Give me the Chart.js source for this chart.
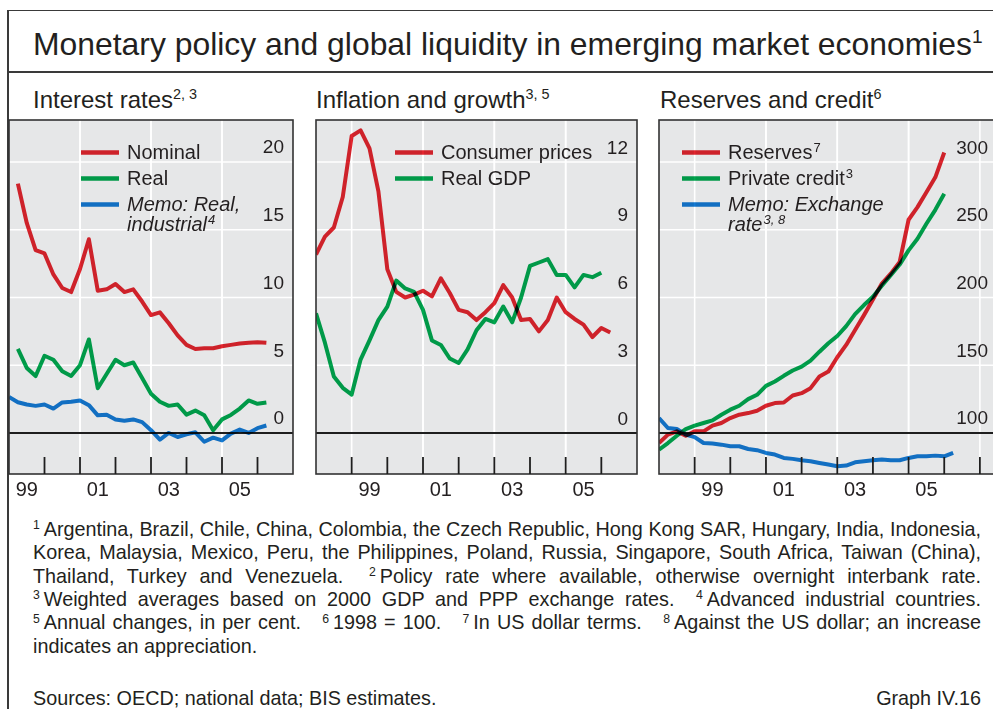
<!DOCTYPE html>
<html>
<head>
<meta charset="utf-8">
<script src="https://cdn.jsdelivr.net/npm/chart.js@4.4.1/dist/chart.umd.min.js"></script>
<style>
html, body { margin: 0; padding: 0; background: #fff; overflow: hidden; width: 993px; height: 709px; }
body { position: relative; font-family: "Liberation Sans", Arial, Helvetica, sans-serif; color: #231f20; }
.abs { position: absolute; white-space: nowrap; }
.rule { position: absolute; background: #3a3a3a; }
.title { left: 33px; top: 28px; font-size: 32px; line-height: 32px; transform-origin: 0 0; }
.sub { top: 88px; font-size: 24px; line-height: 24px; }
.sup { font-size: 0.6em; position: relative; top: -0.6em; }
.fs { font-size: 0.62em; position: relative; top: -0.55em; margin-right: 4px; }
.fn { position: absolute; left: 33px; width: 948px; font-size: 19.8px; line-height: 23.4px; }
.just { text-align: justify; text-align-last: justify; }
canvas { position: absolute; top: 115px; }
</style>
</head>
<body>
<div class="rule" style="left:7px;top:10px;width:2px;height:699px"></div>
<div class="rule" style="left:7px;top:9.5px;width:986px;height:1.5px"></div>
<div class="rule" style="left:7px;top:70.5px;width:986px;height:2px"></div>

<div class="abs title" id="title"><span id="titleText">Monetary policy and global liquidity in emerging market economies</span><span class="sup">1</span></div>
<div class="abs sub" style="left:33px">Interest rates<span class="sup">2, 3</span></div>
<div class="abs sub" style="left:316px">Inflation and growth<span class="sup">3, 5</span></div>
<div class="abs sub" style="left:660px">Reserves and credit<span class="sup">6</span></div>

<canvas id="rates" width="305" height="395" style="left:0px"></canvas>
<canvas id="infl" width="340" height="395" style="left:305px"></canvas>
<canvas id="reserves" width="360" height="395" style="left:645px"></canvas>

<div class="fn just" style="top:517.7px"><span class="fs">1</span>Argentina, Brazil, Chile, China, Colombia, the Czech Republic, Hong Kong SAR, Hungary, India, Indonesia,</div>
<div class="fn just" style="top:541.1px">Korea, Malaysia, Mexico, Peru, the Philippines, Poland, Russia, Singapore, South Africa, Taiwan (China),</div>
<div class="fn just" style="top:564.5px">Thailand, Turkey and Venezuela. &nbsp;<span class="fs">2</span>Policy rate where available, otherwise overnight interbank rate.</div>
<div class="fn just" style="top:587.9px"><span class="fs">3</span>Weighted averages based on 2000 GDP and PPP exchange rates. &nbsp;<span class="fs">4</span>Advanced industrial countries.</div>
<div class="fn just" style="top:611.3px"><span class="fs">5</span>Annual changes, in per cent. &nbsp; <span class="fs">6</span>1998 = 100. &nbsp; <span class="fs">7</span>In US dollar terms. &nbsp; <span class="fs">8</span>Against the US dollar; an increase</div>
<div class="fn" style="top:634.7px">indicates an appreciation.</div>
<div class="fn" style="top:686.7px">Sources: OECD; national data; BIS estimates.</div>
<div class="fn" style="top:686.7px;text-align:right">Graph IV.16</div>

<script>
// quarters (plotted at the start of each quarter)
const quarters9906 = ['1999Q1','1999Q2','1999Q3','1999Q4','2000Q1','2000Q2','2000Q3','2000Q4',
  '2001Q1','2001Q2','2001Q3','2001Q4','2002Q1','2002Q2','2002Q3','2002Q4','2003Q1','2003Q2','2003Q3','2003Q4',
  '2004Q1','2004Q2','2004Q3','2004Q4','2005Q1','2005Q2','2005Q3','2005Q4','2006Q1','2006Q2'];
const quarters9806 = ['1998Q1','1998Q2','1998Q3','1998Q4','1999Q1','1999Q2','1999Q3','1999Q4','2000Q1','2000Q2','2000Q3','2000Q4',
  '2001Q1','2001Q2','2001Q3','2001Q4','2002Q1','2002Q2','2002Q3','2002Q4','2003Q1','2003Q2','2003Q3','2003Q4',
  '2004Q1','2004Q2','2004Q3','2004Q4','2005Q1','2005Q2','2005Q3','2005Q4','2006Q1','2006Q2'];

// interest rates, %
const nominal = [null, 18.4, 15.5, 13.5, 13.25, 11.7, 10.7, 10.4, 12.1, 14.3, 10.5, 10.6, 11.0, 10.4, 10.6, 9.7,
  8.7, 8.9, 8.1, 7.2, 6.5, 6.2, 6.25, 6.25, 6.4, 6.5, 6.6, 6.65, 6.7, 6.65];
const realRate = [null, 6.2, 4.8, 4.2, 5.7, 5.4, 4.55, 4.2, 5.0, 6.9, 3.3, 4.35, 5.4, 5.0, 5.2, 4.05,
  2.9, 2.3, 2.0, 2.1, 1.35, 1.65, 1.3, 0.2, 1.0, 1.33, 1.8, 2.4, 2.15, 2.25];
const realIndustrial = [2.65, 2.27, 2.1, 2.0, 2.1, 1.8, 2.25, 2.3, 2.4, 2.05, 1.3, 1.35, 1.0, 0.9, 1.0, 0.8,
  0.2, -0.5, 0.0, -0.3, -0.1, 0.05, -0.65, -0.35, -0.55, -0.05, 0.25, 0.0, 0.35, 0.55];

// inflation and growth, %
const consumerPrices = [7.9, 8.7, 9.1, 10.45, 13.15, 13.4, 12.6, 10.7, 7.25, 6.25, 6.0, 6.13, 6.3, 6.05, 6.85, 6.2,
  5.45, 5.35, 5.0, 5.35, 5.75, 6.55, 6.0, 5.0, 5.05, 4.5, 5.0, 6.0, 5.35, 5.05, 4.8, 4.25, 4.65, 4.45];
const realGdp = [5.3, 4.0, 2.5, 2.0, 1.7, 3.25, 4.1, 5.0, 5.6, 6.75, 6.4, 6.25, 5.45, 4.1, 3.9, 3.3,
  3.1, 3.7, 4.55, 5.05, 4.9, 5.6, 4.9, 6.0, 7.4, 7.55, 7.7, 7.0, 7.0, 6.45, 7.0, 6.9, 7.1, null];

// reserves and credit, 1998 = 100
const reserves = [92.6, 98.8, 101.2, 98, 101.2, 101.2, 105.4, 107.4, 111, 113.5, 114.7, 116.4, 120.1, 122.1, 122.5, 127.7,
  129.4, 133.1, 141.7, 145.3, 155.9, 165, 176, 187, 198.5, 210.3, 217.6, 226.2, 257.4, 266.7, 277.7, 288.7, 307, null];
const privateCredit = [87.7, 92.6, 98, 102.9, 105.4, 107.4, 109.3, 113.5, 117.2, 120.1, 125, 128.2, 134.8, 138, 142.2, 146.1,
  149, 153.4, 160, 166.2, 171.6, 178.9, 187.7, 194.4, 200.5, 208.6, 216.4, 224.3, 234.8, 243.4, 254.4, 264.7, 276.5, null];
const exchangeRate = [111, 103.7, 102.9, 98.8, 97, 92.6, 92.2, 91.4, 90.2, 90.2, 88.2, 87.3, 85.3, 84.1, 81.6, 80.9,
  79.9, 79.2, 77.9, 76.7, 75.5, 76, 78.4, 79.2, 79.9, 80.4, 79.9, 79.9, 81.6, 82.8, 82.8, 83.3, 82.8, 85.3];

// tick labels
const yearLabels = ['99', '01', '03', '05'];
const ratesTicks = [0, 5, 10, 15, 20];
const inflTicks = [0, 3, 6, 9, 12];
const reservesTicks = [100, 150, 200, 250, 300];

const FONT = '"Liberation Sans", Arial, Helvetica, sans-serif';
const RED = '#e5252e', GREEN = '#00a94f', BLUE = '#137bd5';

// fit title width
const tw = document.getElementById('titleText').getBoundingClientRect().width;
document.getElementById('title').style.transform = 'scaleX(' + (939 / tw) + ')';

// make sure justified footnote lines fit on one line
document.querySelectorAll('.just').forEach(el => {
  const probe = document.createElement('span');
  probe.innerHTML = el.innerHTML;
  probe.style.cssText = 'position:absolute;visibility:hidden;white-space:nowrap;font-size:19.8px';
  document.body.appendChild(probe);
  const w = probe.getBoundingClientRect().width;
  probe.remove();
  if (w > 946) el.style.letterSpacing = ((946 - w) / el.textContent.length) + 'px';
});

function qpos(q) {
  const parts = q.split('Q');
  return +parts[0] + (parts[1] - 1) / 4;
}
function series(quarters, values) {
  return quarters.map((q, i) => ({ x: qpos(q), y: values[i] }));
}

function drawRich(ctx, str, x, y, size, italic) {
  const parts = str.split('^');
  const f = s => (italic ? 'italic ' : '') + s + 'px ' + FONT;
  ctx.font = f(size);
  ctx.fillText(parts[0], x, y);
  if (parts[1]) {
    const w = ctx.measureText(parts[0]).width;
    ctx.font = f(13);
    ctx.fillText(parts[1], x + w + 1, y - 7);
  }
}

const panelPlugin = {
  id: 'panel',
  beforeDraw(chart, args, o) {
    const { ctx, chartArea: a, scales: { x, y } } = chart;
    ctx.save();
    ctx.fillStyle = '#e6e7e8';
    ctx.fillRect(a.left, a.top, a.width, a.height);
    ctx.strokeStyle = '#ffffff';
    ctx.lineWidth = 1.6;
    yearLabels.forEach(l => {
      const yr = 2000 + (+l > 50 ? +l - 100 : +l);
      [yr, yr + 2].forEach(g => {
        if (g > x.min && g < x.max) {
          const px = x.getPixelForValue(g);
          ctx.beginPath(); ctx.moveTo(px, a.top); ctx.lineTo(px, a.bottom); ctx.stroke();
        }
      });
    });
    o.ticks.forEach(v => {
      if (v === o.base) return;
      const py = y.getPixelForValue(v);
      ctx.beginPath(); ctx.moveTo(a.left, py); ctx.lineTo(a.right, py); ctx.stroke();
    });
    ctx.strokeStyle = '#1e1e1e';
    ctx.lineWidth = 2;
    const by = y.getPixelForValue(o.base);
    ctx.beginPath(); ctx.moveTo(a.left, by); ctx.lineTo(a.right, by); ctx.stroke();
    ctx.restore();
  },
  beforeDatasetsDraw(chart) {
    chart.ctx.save();
    chart.ctx.globalCompositeOperation = 'multiply';
  },
  afterDatasetsDraw(chart, args, o) {
    const { ctx, chartArea: a, scales: { x, y } } = chart;
    // legend samples (multiply, like the lines)
    const lg = o.legend;
    let cy = a.top + lg.y;
    const rows = [];
    chart.data.datasets.forEach(ds => {
      ctx.strokeStyle = ds.borderColor;
      ctx.lineWidth = 4.5;
      ctx.beginPath();
      ctx.moveTo(a.left + lg.x1, cy + 0.5); ctx.lineTo(a.left + lg.x2, cy + 0.5); ctx.stroke();
      const lines = ds.label.split('\n');
      lines.forEach((t, i) => rows.push({ t, y: cy + i * 20, italic: ds.italic }));
      cy += 26 + (lines.length - 1) * 20;
    });
    ctx.restore();

    ctx.save();
    ctx.fillStyle = '#231f20';
    ctx.textBaseline = 'alphabetic';
    ctx.textAlign = 'left';
    rows.forEach(r => drawRich(ctx, r.t, a.left + lg.text, r.y + 7, 20, r.italic));

    // border
    ctx.strokeStyle = '#333';
    ctx.lineWidth = 1.6;
    ctx.strokeRect(a.left, a.top, a.width, a.height);

    // year ticks inside the bottom
    ctx.strokeStyle = '#1e1e1e';
    ctx.lineWidth = 1.8;
    for (let yr = Math.ceil(x.min + 0.01); yr < x.max - 0.01; yr++) {
      const px = x.getPixelForValue(yr);
      ctx.beginPath(); ctx.moveTo(px, a.bottom); ctx.lineTo(px, a.bottom - 17); ctx.stroke();
    }

    // x labels, centred in the year
    ctx.font = '20px ' + FONT;
    ctx.textAlign = 'center';
    yearLabels.forEach(l => {
      const yr = 2000 + (+l > 50 ? +l - 100 : +l);
      if (yr + 0.5 > x.min && yr + 0.5 < x.max) ctx.fillText(l, x.getPixelForValue(yr + 0.5), a.bottom + 22);
    });

    // y labels, inside on the right above the grid line
    ctx.font = '19px ' + FONT;
    ctx.textAlign = 'right';
    o.ticks.forEach(v => ctx.fillText(String(v), a.right - 9, y.getPixelForValue(v) - 8.5));
    ctx.restore();
  }
};

function makePanel(id, quarters, sets, opt) {
  return new Chart(document.getElementById(id).getContext('2d'), {
    type: 'line',
    data: {
      datasets: sets.map(s => ({
        label: s.label,
        italic: !!s.italic,
        data: series(quarters, s.values),
        borderColor: s.color,
        borderWidth: 4,
        pointRadius: 0,
        tension: 0,
        borderJoinStyle: 'round',
        fill: false
      }))
    },
    options: {
      responsive: false,
      animation: false,
      events: [],
      layout: { padding: opt.padding },
      scales: {
        x: { type: 'linear', display: false, min: opt.xMin, max: opt.xMax },
        y: { type: 'linear', display: false, min: opt.yMin, max: opt.yMax }
      },
      plugins: {
        legend: { display: false },
        tooltip: { enabled: false },
        panel: { ticks: opt.ticks, base: opt.base, legend: opt.legend }
      }
    },
    plugins: [panelPlugin]
  });
}

makePanel('rates', quarters9906, [
  { label: 'Nominal', values: nominal, color: RED },
  { label: 'Real', values: realRate, color: GREEN },
  { label: 'Memo: Real,\nindustrial^4', values: realIndustrial, color: BLUE, italic: true }
], { padding: { left: 9, right: 12, top: 5, bottom: 36 }, xMin: 1999, xMax: 2007, yMin: -3.03, yMax: 23.1,
     ticks: ratesTicks, base: 0, legend: { x1: 72, x2: 110, text: 118, y: 32 } });

makePanel('infl', quarters9806, [
  { label: 'Consumer prices', values: consumerPrices, color: RED },
  { label: 'Real GDP', values: realGdp, color: GREEN }
], { padding: { left: 11, right: 8, top: 5, bottom: 36 }, xMin: 1998, xMax: 2007, yMin: -1.815, yMax: 13.86,
     ticks: inflTicks, base: 0, legend: { x1: 79, x2: 117, text: 125, y: 32 } });

makePanel('reserves', quarters9806, [
  { label: 'Reserves^7', values: reserves, color: RED },
  { label: 'Private credit^3', values: privateCredit, color: GREEN },
  { label: 'Memo: Exchange\nrate^3, 8', values: exchangeRate, color: BLUE, italic: true }
], { padding: { left: 14, right: 8, top: 5, bottom: 36 }, xMin: 1998, xMax: 2007.48, yMin: 69.74, yMax: 331,
     ticks: reservesTicks, base: 100, legend: { x1: 23, x2: 61, text: 69, y: 32 } });
</script>
</body>
</html>
